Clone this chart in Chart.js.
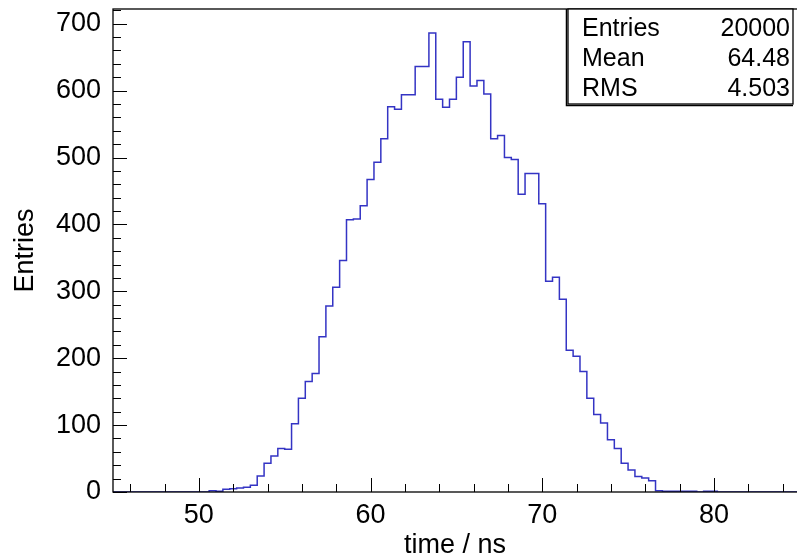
<!DOCTYPE html>
<html>
<head>
<meta charset="utf-8">
<script src="https://cdn.jsdelivr.net/npm/chart.js@4.4.1/dist/chart.umd.min.js"></script>
<style>
  html, body { margin: 0; padding: 0; background: #fff; }
  #wrap { width: 797px; height: 556px; }
</style>
</head>
<body>
<div id="wrap"><canvas id="histo"></canvas></div>
<script>
// histogram definition: 100 bins of 0.4 ns from 45 ns
const xMin = 45;
const binWidth = 0.4;
const counts = [
    0, 0, 0, 0, 0, 0, 0, 0, 0, 0,
    0, 0, 0, 0, 2, 1, 4, 5, 6, 7,
    10, 24, 43, 54, 65, 64, 102, 140, 165, 177,
    232, 278, 306, 346, 407, 408, 428, 467, 493, 528,
    576, 572, 594, 594, 636, 636, 686, 587, 575, 587,
    620, 673, 607, 615, 595, 528, 533, 500, 497, 445,
    476, 476, 431, 315, 321, 288, 212, 203, 180, 140,
    116, 103, 78, 65, 43, 33, 23, 21, 17, 2,
    1, 1, 1, 1, 1, 0, 1, 1, 0, 0,
    0, 0, 0, 0, 0, 0, 0, 0, 0, 0
];

const xMajorTicks = [50, 60, 70, 80];
const xMinorTicks = [46, 48, 52, 54, 56, 58, 62, 64, 66, 68, 72, 74, 76, 78, 82, 84];
const yMajorTicks = [0, 100, 200, 300, 400, 500, 600, 700];
const yMinorStep = 20;

const statLabels = ['Entries', 'Mean', 'RMS'];
const statValues = ['20000', '64.48', '4.503'];

const FONT = 'Liberation Sans, Arial, Helvetica, sans-serif';

// step outline: one point at each bin's left edge, plus the closing right edge
const points = counts.map((c, i) => ({ x: xMin + i * binWidth, y: c }));
points.push({ x: xMin + counts.length * binWidth, y: counts[counts.length - 1] });

const frameAndTicks = {
    id: 'frameAndTicks',
    afterDraw(chart) {
        const ctx = chart.ctx;
        const area = chart.chartArea;
        const xs = chart.scales.x, ys = chart.scales.y;
        ctx.save();
        ctx.strokeStyle = '#000';
        ctx.lineWidth = 1.3;
        ctx.strokeRect(area.left, area.top, area.right - area.left + 5, area.bottom - area.top);

        ctx.lineWidth = 1;
        ctx.beginPath();
        xMajorTicks.forEach(v => {
            const px = Math.round(xs.getPixelForValue(v)) + 0.5;
            ctx.moveTo(px, area.bottom); ctx.lineTo(px, area.bottom - 14);
        });
        xMinorTicks.forEach(v => {
            const px = Math.round(xs.getPixelForValue(v)) + 0.5;
            ctx.moveTo(px, area.bottom); ctx.lineTo(px, area.bottom - 8);
        });
        for (let v = 0; v <= ys.max; v += yMinorStep) {
            const py = Math.round(ys.getPixelForValue(v)) + 0.5;
            const len = yMajorTicks.includes(v) ? 14 : 8;
            ctx.moveTo(area.left, py); ctx.lineTo(area.left + len, py);
        }
        ctx.stroke();

        // stats box
        const bx = 568, by = 9, bw = 225, bh = 95;
        ctx.fillStyle = '#fff';
        ctx.fillRect(bx, by, bw, bh);
        ctx.lineWidth = 1.3;
        ctx.strokeRect(bx, by, bw, bh);
        ctx.lineWidth = 1.5;
        ctx.beginPath();
        ctx.moveTo(bx - 1.5, by); ctx.lineTo(bx - 1.5, by + bh + 1.5); ctx.lineTo(bx + bw, by + bh + 1.5);
        ctx.stroke();

        ctx.fillStyle = '#000';
        ctx.font = '25px ' + FONT;
        ctx.textBaseline = 'alphabetic';
        statLabels.forEach((lab, i) => {
            const base = 36 + i * 30;
            ctx.textAlign = 'left';
            ctx.fillText(lab, 582, base);
            ctx.textAlign = 'right';
            ctx.fillText(statValues[i], 790, base);
        });
        ctx.restore();
    }
};

new Chart(document.getElementById('histo'), {
    type: 'line',
    data: {
        datasets: [{
            data: points,
            stepped: 'before',
            borderColor: '#3434c4',
            borderWidth: 1.5,
            pointRadius: 0,
            fill: false
        }]
    },
    options: {
        responsive: true,
        maintainAspectRatio: false,
        animation: false,
        layout: { padding: { top: 9, right: 0, left: 0, bottom: 0 } },
        plugins: { legend: { display: false }, tooltip: { enabled: false } },
        scales: {
            x: {
                type: 'linear',
                min: 45,
                max: 84.84,
                grid: { display: false, drawTicks: false },
                border: { display: false },
                afterBuildTicks: s => { s.ticks = xMajorTicks.map(v => ({ value: v })); },
                afterFit: s => { s.height = 64; s.paddingLeft = 0; s.paddingRight = 0; },
                ticks: {
                    padding: 7,
                    color: '#000',
                    maxRotation: 0,
                    font: { family: FONT, size: 27 }
                },
                title: {
                    display: true,
                    text: 'time / ns',
                    color: '#000',
                    padding: { top: 0, bottom: 0 },
                    font: { family: FONT, size: 27, lineHeight: 0.78 }
                }
            },
            y: {
                min: 0,
                max: 722,
                grid: { display: false, drawTicks: false },
                border: { display: false },
                afterBuildTicks: s => { s.ticks = yMajorTicks.map(v => ({ value: v })); },
                afterFit: s => { s.width = 113; s.paddingTop = 0; s.paddingBottom = 0; },
                ticks: {
                    padding: 12,
                    color: '#000',
                    font: { family: FONT, size: 27 }
                },
                title: {
                    display: true,
                    text: 'Entries',
                    color: '#000',
                    padding: { top: 9, bottom: 0 },
                    font: { family: FONT, size: 27 }
                }
            }
        }
    },
    plugins: [frameAndTicks]
});
</script>
</body>
</html>
